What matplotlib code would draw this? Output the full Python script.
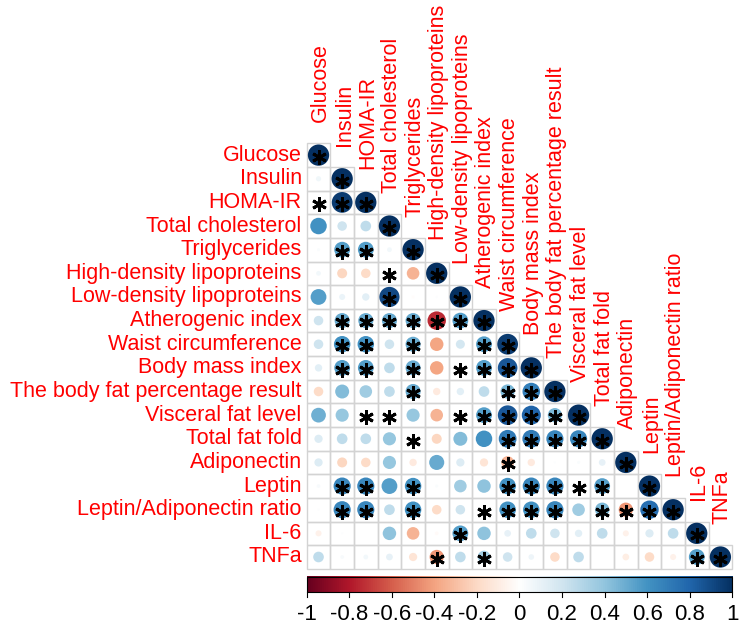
import numpy as np
import matplotlib
matplotlib.use("Agg")
import matplotlib.pyplot as plt
from matplotlib.patches import Circle, Rectangle
from matplotlib.colors import LinearSegmentedColormap

plt.rcParams['font.family'] = ['Liberation Sans', 'DejaVu Sans']

# Variables (row / column order)
labels = ["Glucose", "Insulin", "HOMA-IR", "Total cholesterol", "Triglycerides",
          "High-density lipoproteins", "Low-density lipoproteins", "Atherogenic index",
          "Waist circumference", "Body mass index", "The body fat percentage result",
          "Visceral fat level", "Total fat fold", "Adiponectin", "Leptin",
          "Leptin/Adiponectin ratio", "IL-6", "TNFa"]

# Lower triangle correlations (row i has i+1 values)
corr_rows = [
    [1.0],
    [0.06, 1.0],
    [0.03, 0.95, 1.0],
    [0.6, 0.2, 0.25, 1.0],
    [0.02, 0.55, 0.55, 0.05, 1.0],
    [0.05, -0.22, -0.2, 0.02, -0.35, 1.0],
    [0.55, 0.08, 0.12, 0.9, -0.02, 0.01, 1.0],
    [0.2, 0.5, 0.5, 0.5, 0.5, -0.75, 0.55, 1.0],
    [0.2, 0.6, 0.6, 0.2, 0.5, -0.4, 0.18, 0.55, 0.95],
    [0.12, 0.55, 0.55, 0.25, 0.5, -0.4, 0.02, 0.55, 0.85, 1.0],
    [-0.2, 0.43, 0.35, 0.25, 0.5, -0.12, 0.12, 0.25, 0.45, 0.68, 1.0],
    [0.48, 0.38, 0.02, 0.02, 0.38, -0.35, 0.02, 0.55, 0.85, 0.8, 0.45, 1.0],
    [0.15, 0.25, 0.25, 0.38, 0.03, -0.22, 0.43, 0.6, 0.7, 0.7, 0.65, 0.65, 1.0],
    [0.15, -0.22, -0.2, 0.38, -0.12, 0.5, 0.15, -0.15, -0.35, -0.12, 0.01, 0.02, 0.1, 1.0],
    [0.03, 0.65, 0.65, 0.55, 0.6, 0.02, 0.35, 0.4, 0.6, 0.65, 0.65, 0.03, 0.55, 0.0, 1.0],
    [0.01, 0.65, 0.65, 0.25, 0.6, -0.2, 0.2, 0.03, 0.6, 0.6, 0.65, 0.35, 0.45, -0.45, 0.75, 1.0],
    [-0.08, 0.01, 0.0, 0.4, -0.35, -0.03, 0.55, 0.4, 0.1, 0.25, 0.2, 0.12, 0.25, -0.08, 0.15, 0.25, 1.0],
    [0.25, 0.03, 0.05, 0.1, -0.15, -0.45, 0.25, 0.35, 0.2, 0.07, -0.2, 0.25, 0.0, -0.1, -0.2, -0.08, 0.55, 1.0],
]

# Significant cells (row, col) marked with an asterisk
sig_cells = [
    (0, 0), (1, 1), (2, 0), (2, 1), (2, 2), (3, 3), (4, 1), (4, 2), (4, 4),
    (5, 3), (5, 5), (6, 3), (6, 6),
    (7, 1), (7, 2), (7, 3), (7, 4), (7, 5), (7, 6), (7, 7),
    (8, 1), (8, 2), (8, 4), (8, 7), (8, 8),
    (9, 1), (9, 2), (9, 4), (9, 6), (9, 7), (9, 8), (9, 9),
    (10, 4), (10, 8), (10, 9), (10, 10),
    (11, 2), (11, 3), (11, 6), (11, 7), (11, 8), (11, 9), (11, 10), (11, 11),
    (12, 4), (12, 8), (12, 9), (12, 10), (12, 11), (12, 12),
    (13, 8), (13, 13),
    (14, 1), (14, 2), (14, 4), (14, 8), (14, 9), (14, 10), (14, 11), (14, 12), (14, 14),
    (15, 1), (15, 2), (15, 4), (15, 7), (15, 8), (15, 9), (15, 10), (15, 12), (15, 13),
    (15, 14), (15, 15),
    (16, 6), (16, 16),
    (17, 5), (17, 7), (17, 16), (17, 17),
]

cbar_ticks = [-1, -0.8, -0.6, -0.4, -0.2, 0, 0.2, 0.4, 0.6, 0.8, 1]

rdbu = ["#67001F", "#B2182B", "#D6604D", "#F4A582", "#FDDBC7", "#FFFFFF",
        "#D1E5F0", "#92C5DE", "#4393C3", "#2166AC", "#053061"]
cmap = LinearSegmentedColormap.from_list("corr", rdbu, N=200)

n = len(labels)
W, H = 746, 634
cell = 23.64
x0, y0 = 306.7, 143.3  # top-left corner of the grid in pixels

fig = plt.figure(figsize=(W / 100, H / 100), dpi=100)
ax = fig.add_axes([0, 0, 1, 1])
ax.set_xlim(-x0 / cell - 0.5, (W - x0) / cell - 0.5)
ax.set_ylim((H - y0) / cell - 0.5, -y0 / cell - 0.5)
ax.axis("off")

red = "#FF0000"
for i, row in enumerate(corr_rows):
    for j, r in enumerate(row):
        ax.add_patch(Rectangle((j - 0.5, i - 0.5), 1, 1, fill=False,
                               ec="#D3D3D3", lw=1.0, zorder=1))
        ax.add_patch(Circle((j, i), 0.45 * np.sqrt(abs(r)),
                            fc=cmap((r + 1) / 2), ec="none", zorder=2))

si = [c[0] for c in sig_cells]
sj = [c[1] for c in sig_cells]
ax.plot(sj, [s + 0.08 for s in si], ls="none", marker=(6, 2, 0),
        ms=10.5, mew=2.1, color="black", zorder=3)

# row labels
for i, lab in enumerate(labels):
    ax.text(-0.5 - 5 / cell, i, lab, ha="right", va="center",
            fontsize=15.5, color=red)
# column labels
for j, lab in enumerate(labels):
    ax.text(j + 0.08, j - 0.5 - 0.9, lab, ha="center", va="bottom",
            rotation=90, fontsize=15.5, color=red)

# colour bar
cb_top = (576.7 - y0) / cell - 0.5
cb_bot = (592.3 - y0) / cell - 0.5
grad = np.linspace(-1, 1, 400).reshape(1, -1)
ax.imshow(grad, cmap=cmap, vmin=-1, vmax=1, aspect="auto",
          extent=(-0.5, n - 0.5, cb_bot, cb_top), zorder=1)
ax.add_patch(Rectangle((-0.5, cb_top), n, cb_bot - cb_top, fill=False,
                       ec="black", lw=0.8, zorder=2))
tick_end = (597 - y0) / cell - 0.5
lab_y = (615 - y0) / cell - 0.5
for t in cbar_ticks:
    tx = -0.5 + (t + 1) / 2 * n
    ax.plot([tx, tx], [cb_bot, tick_end], color="black", lw=0.8)
    ax.text(tx, lab_y, f"{t:g}", ha="center", va="center", fontsize=16)

fig.savefig("out.png", dpi=100)
